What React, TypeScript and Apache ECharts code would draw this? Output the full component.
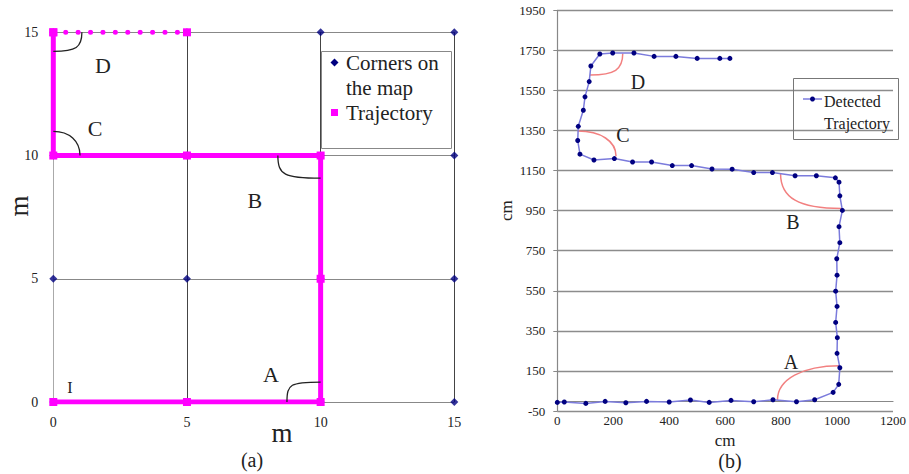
import React, { useEffect, useRef } from 'react';
import * as echarts from 'echarts';

const SERIF = "'Liberation Serif', 'Times New Roman', serif";
const TXT = '#222';

// ---------- (a) map ----------
const cornerX = [0, 5, 10, 15, 0, 5, 10, 15, 0, 5, 10, 15, 0, 5, 10, 15];
const cornerY = [0, 0, 0, 0, 5, 5, 5, 5, 10, 10, 10, 10, 15, 15, 15, 15];
const trajX = [0, 5, 10, 10, 10, 5, 0, 0];
const trajY = [0, 0, 0, 5, 10, 10, 10, 15];
const trajDotX = [0, 5];
const trajDotY = [15, 15];
// arcs: start x,y / corner x,y / end x,y / roundness
const mapArcs = [
  [8.74, 0, 8.74, 0.81, 10, 0.81, 0.9],
  [10, 9.08, 8.4, 9.08, 8.4, 10, 0.85],
  [0, 10.98, 1.0, 10.98, 1.0, 10, 0.6],
  [1.07, 15, 1.07, 14.23, 0, 14.23, 0.8],
];
const mapLabelNames = ['A', 'B', 'C', 'D', 'I'];
const mapLabelX = [8.14, 7.54, 1.56, 1.86, 0.62];
const mapLabelY = [1.13, 8.19, 11.1, 13.66, 0.57];
const mapLabelSize = [22, 22, 22, 22, 16];

// ---------- (b) detected ----------
const detX = [0, 25, 102, 171, 245, 319, 400, 476, 543, 621, 702, 771, 855, 920, 986, 1006, 1010, 1000, 1001, 995, 1000, 995, 1000, 999, 1010, 1007, 1019, 1010, 1007, 994, 926, 850, 769, 702, 625, 553, 480, 411, 337, 269, 204, 131, 81, 73, 75, 93, 99, 114, 120, 152, 198, 274, 346, 424, 500, 581, 617];
const detY = [-7, -5, -12, -2, -9, -2, -5, 5, -7, 3, -4, 6, -4, 6, 43, 83, 166, 238, 316, 392, 472, 548, 628, 710, 790, 870, 951, 1024, 1092, 1114, 1124, 1124, 1140, 1140, 1157, 1158, 1175, 1175, 1193, 1193, 1210, 1203, 1232, 1300, 1371, 1451, 1518, 1594, 1672, 1732, 1737, 1737, 1720, 1720, 1710, 1710, 1710];
const detArcs = [
  [787, 5, 787, 176, 1010, 176, 0.6],
  [798, 1136, 798, 961, 1016, 961, 0.7],
  [73, 1347, 210, 1347, 210, 1222, 0.6],
  [117, 1627, 234, 1627, 234, 1734, 0.75],
];
const detLabelNames = ['A', 'B', 'C', 'D'];
const detLabelX = [835, 842, 235, 288];
const detLabelY = [194, 893, 1327, 1591];

function arcRenderer(color: string, width: number) {
  return (params: any, api: any) => {
    const s = api.coord([api.value(0), api.value(1)]);
    const c = api.coord([api.value(2), api.value(3)]);
    const e = api.coord([api.value(4), api.value(5)]);
    const k = api.value(6);
    return {
      type: 'bezierCurve',
      shape: {
        x1: s[0], y1: s[1], x2: e[0], y2: e[1],
        cpx1: s[0] + k * (c[0] - s[0]), cpy1: s[1] + k * (c[1] - s[1]),
        cpx2: e[0] + k * (c[0] - e[0]), cpy2: e[1] + k * (c[1] - e[1]),
      },
      style: { stroke: color, lineWidth: width, fill: null },
    };
  };
}

function labelRenderer(names: string[], sizes: number[] | null, size: number) {
  return (params: any, api: any) => {
    const p = api.coord([api.value(0), api.value(1)]);
    return {
      type: 'text',
      x: p[0],
      y: p[1],
      style: {
        text: names[params.dataIndex],
        fontSize: sizes ? sizes[params.dataIndex] : size,
        fontFamily: SERIF,
        fill: TXT,
        align: 'center',
        verticalAlign: 'middle',
      },
    };
  };
}

const plain = (v: number) => String(v);

export default function App() {
  const ref = useRef<HTMLDivElement>(null);
  useEffect(() => {
    if (!ref.current) return;
    const chart = echarts.init(ref.current, null, { renderer: 'svg' });
    const labelStyle = { fontFamily: SERIF, color: TXT, formatter: plain };
    const option: any = {
      animation: false,
      backgroundColor: '#fff',
      grid: [
        { left: 53.3, top: 32.3, width: 401, height: 369.7 },
        { left: 557.3, top: 10.3, width: 336, height: 400.7 },
      ],
      xAxis: [
        {
          gridIndex: 0, type: 'value', min: 0, max: 15, interval: 5,
          axisLine: { show: false }, axisTick: { show: false },
          axisLabel: { ...labelStyle, fontSize: 14, margin: 13 },
          splitLine: { show: true, lineStyle: { color: ['#aaaaaa', '#444', '#444', '#444'], width: 1 } },
        },
        {
          gridIndex: 1, type: 'value', min: 0, max: 1200, interval: 200,
          axisLine: { show: true, lineStyle: { color: '#888', width: 1.2 } },
          axisTick: { show: false },
          axisLabel: { ...labelStyle, fontSize: 13, margin: 3 },
          splitLine: { show: false },
          name: 'cm', nameLocation: 'middle', nameGap: 14,
          nameTextStyle: { fontFamily: SERIF, color: TXT, fontSize: 17 },
        },
      ],
      yAxis: [
        {
          gridIndex: 0, type: 'value', min: 0, max: 15, interval: 5,
          axisLine: { show: false }, axisTick: { show: false },
          axisLabel: { ...labelStyle, fontSize: 14, margin: 15 },
          splitLine: { show: true, lineStyle: { color: '#888', width: 1 } },
        },
        {
          gridIndex: 1, type: 'value', min: -50, max: 1950, interval: 200,
          axisLine: { show: true, lineStyle: { color: '#888', width: 1.2 } },
          axisTick: { show: true, length: 4, lineStyle: { color: '#888' } },
          axisLabel: { ...labelStyle, fontSize: 13, margin: 12 },
          splitLine: { show: true, lineStyle: { color: '#8c8c8c', width: 1.3 } },
          name: 'cm', nameLocation: 'middle', nameGap: 38,
          nameTextStyle: { fontFamily: SERIF, color: TXT, fontSize: 17 },
        },
      ],
      series: [
        {
          name: 'Corners on the map', type: 'scatter', xAxisIndex: 0, yAxisIndex: 0,
          symbol: 'diamond', symbolSize: 8, itemStyle: { color: '#000080' }, z: 3,
          data: cornerX.map((x, i) => [x, cornerY[i]]),
        },
        {
          name: 'Trajectory', type: 'line', xAxisIndex: 0, yAxisIndex: 0,
          symbol: 'rect', symbolSize: 8, showSymbol: true,
          lineStyle: { color: '#ff00ff', width: 5 }, itemStyle: { color: '#ff00ff' }, z: 4,
          data: trajX.map((x, i) => [x, trajY[i]]),
        },
        {
          name: 'Trajectory (dotted)', type: 'line', xAxisIndex: 0, yAxisIndex: 0,
          symbol: 'rect', symbolSize: 8, showSymbol: true,
          lineStyle: { color: '#ff00ff', width: 5, type: [0.01, 12.4], cap: 'round' },
          itemStyle: { color: '#ff00ff' }, z: 4,
          data: trajDotX.map((x, i) => [x, trajDotY[i]]),
        },
        {
          type: 'custom', xAxisIndex: 0, yAxisIndex: 0, silent: true, z: 5,
          renderItem: arcRenderer('#222', 1.3),
          data: mapArcs,
        },
        {
          type: 'custom', xAxisIndex: 0, yAxisIndex: 0, silent: true, z: 5,
          renderItem: labelRenderer(mapLabelNames, mapLabelSize, 22),
          data: mapLabelX.map((x, i) => [x, mapLabelY[i]]),
        },
        {
          name: 'Detected Trajectory', type: 'line', xAxisIndex: 1, yAxisIndex: 1,
          symbol: 'circle', symbolSize: 5, showSymbol: true,
          lineStyle: { color: '#7b7bdc', width: 1.5 }, itemStyle: { color: '#000080' }, z: 4,
          data: detX.map((x, i) => [x, detY[i]]),
        },
        {
          type: 'custom', xAxisIndex: 1, yAxisIndex: 1, silent: true, z: 3,
          renderItem: arcRenderer('#f28080', 1.5),
          data: detArcs,
        },
        {
          type: 'custom', xAxisIndex: 1, yAxisIndex: 1, silent: true, z: 5,
          renderItem: labelRenderer(detLabelNames, null, 20),
          data: detLabelX.map((x, i) => [x, detLabelY[i]]),
        },
      ],
      graphic: [
        // axis titles for (a)
        { type: 'text', x: 19, y: 206, rotation: Math.PI / 2, style: { text: 'm', fontSize: 27, fontFamily: SERIF, fill: TXT, align: 'center', verticalAlign: 'middle' } },
        { type: 'text', x: 282, y: 433, style: { text: 'm', fontSize: 27, fontFamily: SERIF, fill: TXT, align: 'center', verticalAlign: 'middle' } },
        { type: 'text', x: 252, y: 460, style: { text: '(a)', fontSize: 20, fontFamily: SERIF, fill: TXT, align: 'center', verticalAlign: 'middle' } },
        { type: 'text', x: 730, y: 461, style: { text: '(b)', fontSize: 20, fontFamily: SERIF, fill: TXT, align: 'center', verticalAlign: 'middle' } },
        // legend (a)
        { type: 'rect', shape: { x: 321.5, y: 51.5, width: 130, height: 97 }, style: { fill: '#fff', stroke: '#888', lineWidth: 1 }, z: 10 },
        { type: 'polygon', shape: { points: [[334.5, 58.5], [338.5, 62.5], [334.5, 66.5], [330.5, 62.5]] }, style: { fill: '#000080' }, z: 11 },
        { type: 'rect', shape: { x: 331, y: 109, width: 7, height: 7 }, style: { fill: '#ff00ff' }, z: 11 },
        { type: 'text', x: 346, y: 63, style: { text: 'Corners on', fontSize: 21, fontFamily: SERIF, fill: TXT, align: 'left', verticalAlign: 'middle' }, z: 11 },
        { type: 'text', x: 346, y: 88, style: { text: 'the map', fontSize: 21, fontFamily: SERIF, fill: TXT, align: 'left', verticalAlign: 'middle' }, z: 11 },
        { type: 'text', x: 346, y: 113, style: { text: 'Trajectory', fontSize: 21, fontFamily: SERIF, fill: TXT, align: 'left', verticalAlign: 'middle' }, z: 11 },
        // legend (b)
        { type: 'rect', shape: { x: 793.5, y: 78.5, width: 105, height: 61 }, style: { fill: 'rgba(255,255,255,0)', stroke: '#777', lineWidth: 1 }, z: 10 },
        { type: 'line', shape: { x1: 803, y1: 99, x2: 822, y2: 99 }, style: { stroke: '#7b7bdc', lineWidth: 1.5 }, z: 11 },
        { type: 'circle', shape: { cx: 812.5, cy: 99, r: 2.5 }, style: { fill: '#000080' }, z: 11 },
        { type: 'text', x: 824, y: 101, style: { text: 'Detected', fontSize: 16, fontFamily: SERIF, fill: TXT, align: 'left', verticalAlign: 'middle' }, z: 11 },
        { type: 'text', x: 824, y: 123, style: { text: 'Trajectory', fontSize: 16, fontFamily: SERIF, fill: TXT, align: 'left', verticalAlign: 'middle' }, z: 11 },
      ],
    };
    chart.setOption(option);
    return () => chart.dispose();
  }, []);
  return (
    <div
      ref={ref}
      style={{ position: 'absolute', left: 0, top: 0, width: 909, height: 474, background: '#fff' }}
    />
  );
}
